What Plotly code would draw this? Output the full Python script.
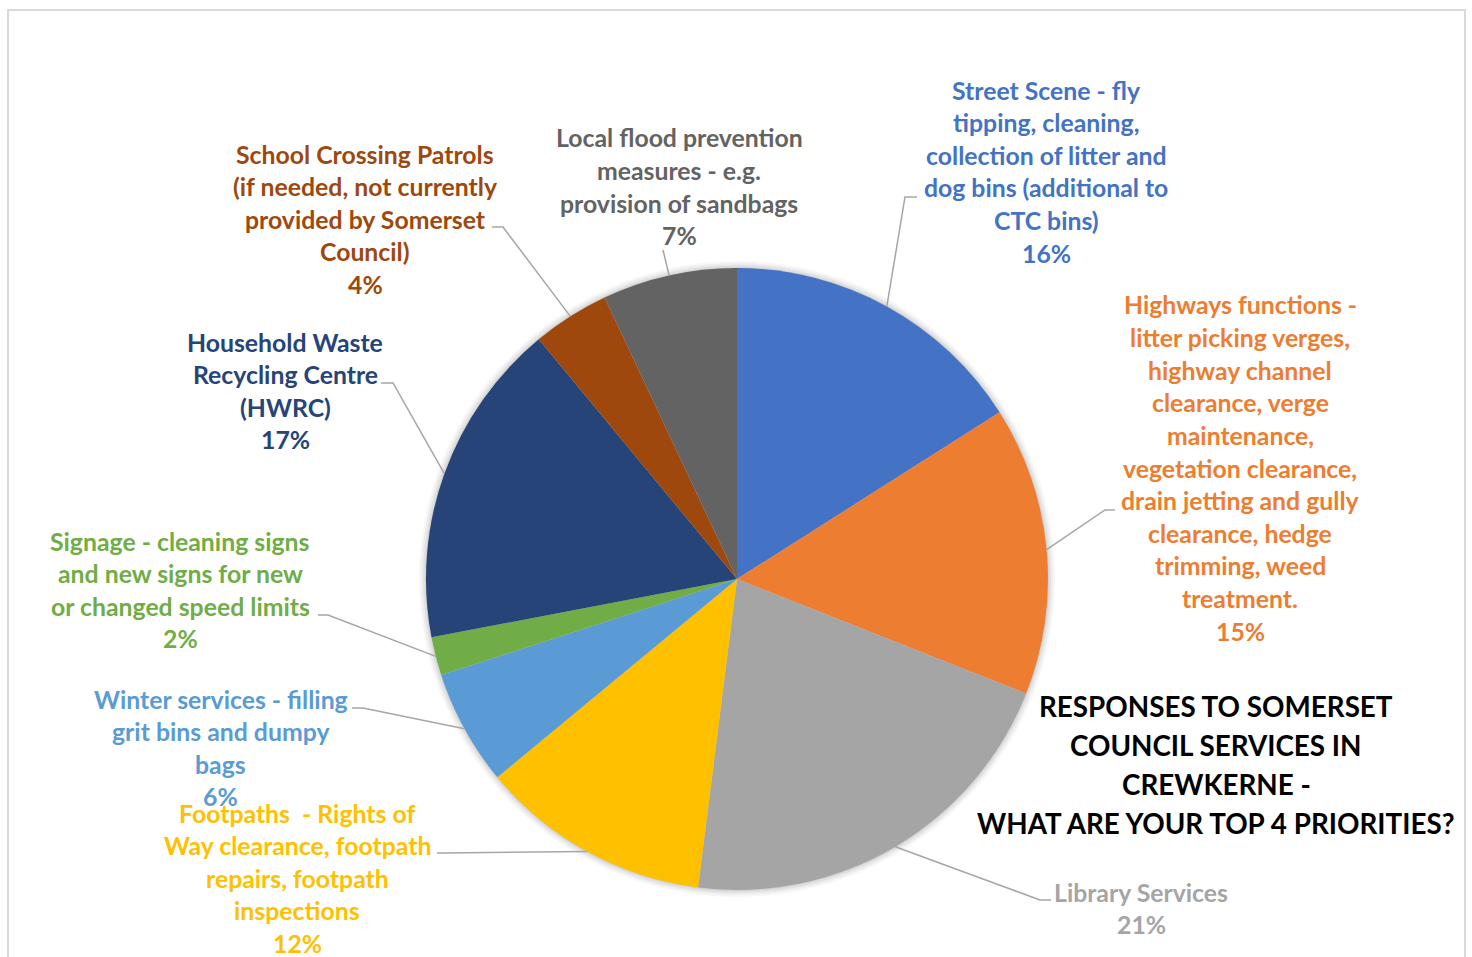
import math
import plotly.graph_objects as go

# ---- data ----
categories = [
    "Street Scene - fly\ntipping, cleaning,\ncollection of litter and\ndog bins (additional to\nCTC bins)",
    "Highways functions -\nlitter picking verges,\nhighway channel\nclearance, verge\nmaintenance,\nvegetation clearance,\ndrain jetting and gully\nclearance, hedge\ntrimming, weed\ntreatment.",
    "Library Services",
    "Footpaths  - Rights of\nWay clearance, footpath\nrepairs, footpath\ninspections",
    "Winter services - filling\ngrit bins and dumpy\nbags",
    "Signage - cleaning signs\nand new signs for new\nor changed speed limits",
    "Household Waste\nRecycling Centre\n(HWRC)",
    "School Crossing Patrols\n(if needed, not currently\nprovided by Somerset\nCouncil)",
    "Local flood prevention\nmeasures - e.g.\nprovision of sandbags",
]
values = [16, 15, 21, 12, 6, 2, 17, 4, 7]
slice_colors = ["#4472C4", "#ED7D31", "#A5A5A5", "#FFC000", "#5B9BD5",
                "#70AD47", "#264478", "#9E480E", "#636363"]
title_lines = ["RESPONSES TO SOMERSET", "COUNCIL SERVICES IN", "CREWKERNE -",
               "WHAT ARE YOUR TOP 4 PRIORITIES?"]

# ---- layout constants (pixels) ----
W, H = 1472, 957
CX, CY, R = 737, 579, 311
FONT = "Lato"
LBL_SIZE = 24.8
TTL_SIZE = 27.8
SPACING = 32.6

# label placement: (center x, first-line y, bend point, end point)
label_pos = [
    (1046, 90, (905, 197), (917, 197)),
    (1240, 305, (1105, 510), (1115, 510)),
    (1141, 892, (1040, 900), (1051, 900)),
    (297, 813, (445, 853), (437, 853)),
    (221, 699, (363, 708), (352, 708)),
    (180, 541, (328, 615), (318, 615)),
    (285, 342, (393, 383), (381, 383)),
    (365, 154, (503, 227), (492, 227)),
    (679, 138, (663, 250), (663, 250)),
]


def px(x):
    return x / W


def py(y):
    return 1 - y / H


fig = go.Figure()

fig.add_trace(go.Pie(
    labels=[c.replace("\n", " ") for c in categories],
    values=values,
    sort=False,
    direction="clockwise",
    rotation=0,
    marker=dict(colors=slice_colors, line=dict(width=0)),
    textinfo="none",
    hoverinfo="label+percent",
    showlegend=False,
    domain=dict(x=[px(CX - R), px(CX + R)], y=[py(CY + R), py(CY - R)]),
))

shapes = []
# soft shadow rings
for k, op in [(7, 0.03), (5, 0.04), (3, 0.05), (1, 0.07)]:
    shapes.append(dict(type="circle", xref="paper", yref="paper",
                       x0=px(CX - R - k), x1=px(CX + R + k),
                       y0=py(CY + R + k), y1=py(CY - R - k),
                       fillcolor=f"rgba(0,0,0,{op})", line=dict(width=0),
                       layer="below"))
# chart border
shapes.append(dict(type="rect", xref="paper", yref="paper",
                   x0=px(8), x1=px(1465), y0=-0.01, y1=py(10),
                   line=dict(color="#D9D9D9", width=2), layer="below"))

annotations = []
total = sum(values)
cum = 0
for i, (cat, v) in enumerate(zip(categories, values)):
    mid = (cum + v / 2) / total * 2 * math.pi
    cum += v
    ex = CX + R * math.sin(mid)
    ey = CY - R * math.cos(mid)
    cx, y0, bend, end = label_pos[i]
    shapes.append(dict(type="path", xref="paper", yref="paper",
                       path=f"M {px(ex)},{py(ey)} L {px(bend[0])},{py(bend[1])} L {px(end[0])},{py(end[1])}",
                       line=dict(color="#A6A6A6", width=1.5)))
    lines = cat.split("\n") + [f"{round(v / total * 100)}%"]
    for j, ln in enumerate(lines):
        annotations.append(dict(
            x=px(cx), y=py(y0 + j * SPACING), xref="paper", yref="paper",
            text=ln.replace("  ", "&nbsp; "), showarrow=False,
            xanchor="center", yanchor="middle",
            font=dict(family=FONT, size=LBL_SIZE, color=slice_colors[i], weight="bold"),
        ))

for j, ln in enumerate(title_lines):
    annotations.append(dict(
        x=px(1216), y=py(706 + j * 39.3), xref="paper", yref="paper",
        text=ln, showarrow=False, xanchor="center", yanchor="middle",
        font=dict(family=FONT, size=TTL_SIZE, color="#000000", weight="bold"),
    ))

fig.update_layout(
    width=W, height=H,
    margin=dict(l=0, r=0, t=0, b=0),
    paper_bgcolor="white", plot_bgcolor="white",
    shapes=shapes, annotations=annotations,
)

fig.write_html("out.html")
